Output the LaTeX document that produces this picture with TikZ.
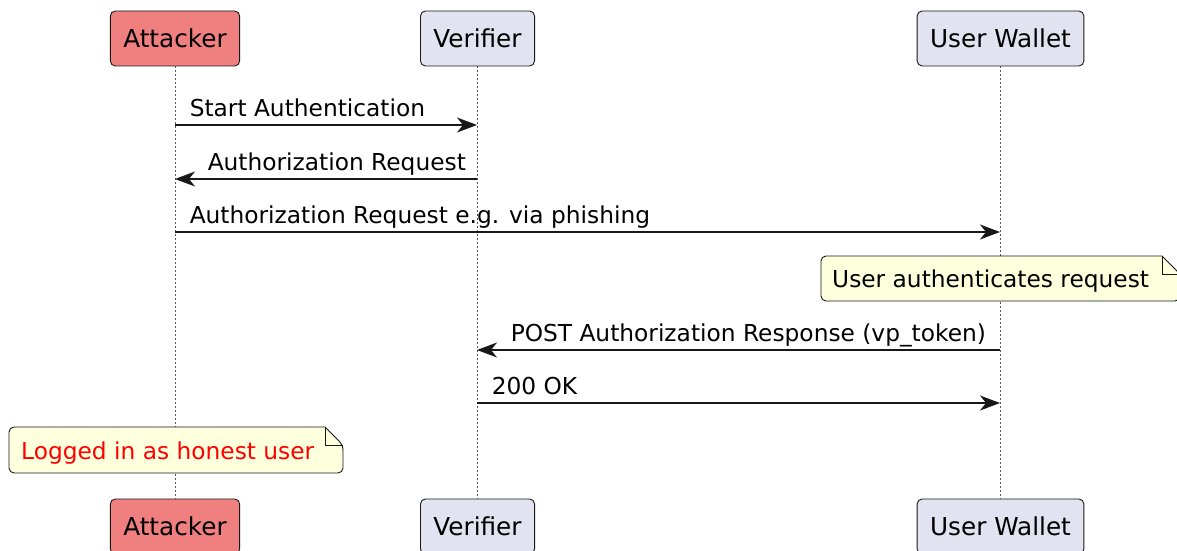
\documentclass[tikz,border=0pt]{standalone}
\usepackage{fontspec}
\setmainfont{DejaVu Sans}
\usetikzlibrary{positioning}
\usetikzlibrary{arrows.meta}
\usetikzlibrary{calc}
\definecolor{partfill}{HTML}{E2E2F0}
\definecolor{attfill}{HTML}{F08080}
\definecolor{notefill}{HTML}{FEFFDD}
\definecolor{linecol}{HTML}{181818}
\definecolor{lifecol}{HTML}{555555}
\tikzset{
every node/.style={font=\fontsize{23.3}{28}\selectfont},
participant/.style={ % Boxes at the top and bottom of each lifeline
draw=linecol,
fill=partfill,
line width=0.9pt,
rounded corners=5pt,
minimum height=55pt,
inner xsep=13pt,
text height=18pt,
text depth=0pt,
font=\fontsize{24.7}{29}\selectfont},
lifeline/.style={draw=lifecol, line width=0.8pt, dash pattern=on 2pt off 2pt},
msg/.style={ % Messages between lifelines
draw=linecol,
line width=1.5pt,
-{Stealth[length=20pt,width=15pt,inset=6pt]}},
msglabel/.style={anchor=base west, inner sep=0pt},
notebox/.style={draw=linecol, fill=notefill, line width=0.9pt},
notetext/.style={anchor=base west, inner sep=0pt}}
% note with folded corner, #1 = north west, #2 = south east
\newcommand{\drawnote}[2]{%
  \filldraw[notebox] ($(#1 -| #2)+(-18,0)$) [rounded corners=5pt] -- (#1) -- (#1 |- #2) -- (#2)
    -- ($(#1 -| #2)+(0,18)$) [sharp corners] -- cycle;
  \draw[notebox, fill=none] ($(#1 -| #2)+(-18,0)$) -- ++(0,18) -- ++(18,0);
}

\begin{document}
\begin{tikzpicture}[x=1pt, y=-1pt]
  \useasboundingbox (0,0) rectangle (1177,551);
  % participants
  \node[participant, fill=attfill] (att) at (175,38.5) {Attacker};
  \node[participant] (ver) at (477.5,38.5) {Verifier};
  \node[participant] (wal) at (1000.5,38.5) {User Wallet};
  \node[participant, fill=attfill] (attB) at (175,526.5) {Attacker};
  \node[participant] (verB) at (477.5,526.5) {Verifier};
  \node[participant] (walB) at (1000.5,526.5) {User Wallet};
  \draw[lifeline] (att) -- (attB);
  \draw[lifeline] (ver) -- (verB);
  \draw[lifeline] (wal) -- (walB);
  % points on the lifelines
  \coordinate (a1) at (175,125);   \coordinate (v1) at (477,125);
  \coordinate (a2) at (175,179);   \coordinate (v2) at (477,179);
  \coordinate (a3) at (175,232);   \coordinate (w3) at (1000,232);
  \coordinate (v4) at (477,350);   \coordinate (w4) at (1000,350);
  \coordinate (v5) at (477,403);   \coordinate (w5) at (1000,403);
  % messages
  \draw[msg] (a1) -- (v1) node[msglabel, pos=0, xshift=14pt, yshift=9pt] {Start Authentication};
  \draw[msg] (v2) -- (a2) node[msglabel, pos=1, xshift=32pt, yshift=9pt] {Authorization Request};
  \draw[msg] (a3) -- (w3) node[msglabel, pos=0, xshift=14pt, yshift=9pt] {Authorization Request e.g. via phishing};
  \draw[msg] (w4) -- (v4) node[msglabel, pos=1, xshift=33pt, yshift=9pt] {POST Authorization Response (vp\_token)};
  \draw[msg] (v5) -- (w5) node[msglabel, pos=0, xshift=14pt, yshift=9pt] {200 OK};
  % notes
  \coordinate (n1nw) at (821,256); \coordinate (n1se) at (1180,301);
  \drawnote{n1nw}{n1se}
  \node[notetext] (auth) at (832,287) {User authenticates request};
  \coordinate (n2nw) at (9,427); \coordinate (n2se) at (343,473);
  \drawnote{n2nw}{n2se}
  \node[notetext, text=red] (logged) at (21,459) {Logged in as honest user};
\end{tikzpicture}
\end{document}
